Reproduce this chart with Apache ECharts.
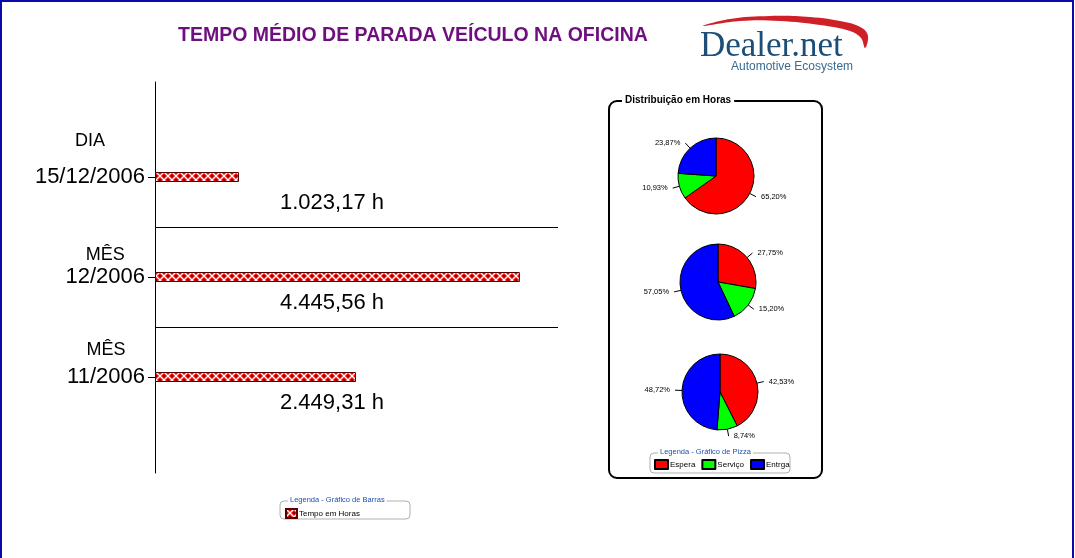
<!DOCTYPE html>
<html><head><meta charset="utf-8">
<script src="https://cdn.jsdelivr.net/npm/echarts@6/dist/echarts.min.js"></script>
<style>html,body{margin:0;padding:0;background:#fff}#c{width:1075px;height:558px}</style>
</head><body><div id="c"></div>
<script>
// ---- data ----
const barTopLabels = ['DIA', 'MÊS', 'MÊS'];
const barDateLabels = ['15/12/2006', '12/2006', '11/2006'];
const barValues = [1023.17, 4445.56, 2449.31];
const barSeriesName = 'Tempo em Horas';
const pieCategories = ['Espera', 'Serviço', 'Entrga'];
const pie1Values = [65.20, 10.93, 23.87];
const pie2Values = [27.75, 15.20, 57.05];
const pie3Values = [42.53, 8.74, 48.72];
const pieColors = ['#ff0000', '#00ff00', '#0000ff'];

function fmtBR(v) {
  const parts = v.toFixed(2).split('.');
  const int = parts[0].replace(/\B(?=(\d{3})+(?!\d))/g, '.');
  return int + ',' + parts[1];
}
function makePattern() {
  const c = document.createElement('canvas'); c.width = 8; c.height = 8;
  const g = c.getContext('2d');
  g.fillStyle = '#ff0000'; g.fillRect(0, 0, 8, 8);
  g.strokeStyle = '#ffffff'; g.lineWidth = 1.3;
  g.beginPath(); g.moveTo(0, 0); g.lineTo(8, 8); g.moveTo(8, 0); g.lineTo(0, 8); g.stroke();
  g.fillStyle = '#7a0000';
  g.fillRect(3, 0, 2, 1); g.fillRect(3, 7, 2, 1); g.fillRect(0, 3, 1, 2); g.fillRect(7, 3, 1, 2);
  return c;
}
const pattern = { image: makePattern(), repeat: 'repeat' };

const chart = echarts.init(document.getElementById('c'));
const topLH = [48, 20, 30];

function pieSeries(vals, center) {
  return {
    type: 'pie', radius: 38, center: center, startAngle: 90, clockwise: true,
    data: pieCategories.map((n, i) => ({ name: n, value: vals[i], itemStyle: { color: pieColors[i] } })),
    itemStyle: { borderColor: '#000', borderWidth: 1 },
    label: { show: true, position: 'outside', fontSize: 7.5, fontFamily: 'Arial', color: '#000',
      formatter: p => fmtBR(p.value) + '%' },
    labelLine: { show: true, length: 7, length2: 0, lineStyle: { color: '#000', width: 1 } },
    emphasis: { disabled: true }, animation: false, silent: true
  };
}

chart.setOption({
  animation: false,
  grid: [
    { left: 155, top: 127, width: 403, height: 300 },
    { left: 155, top: 82, width: 403, height: 391 }
  ],
  xAxis: [
    { gridIndex: 0, type: 'value', min: 0, max: 4910, show: false },
    { gridIndex: 1, type: 'value', min: 0, max: 1, show: false }
  ],
  yAxis: [
    { gridIndex: 0, type: 'category', inverse: true, data: barDateLabels,
      axisLine: { show: false },
      axisTick: { show: true, alignWithLabel: true, length: 7, lineStyle: { color: '#000' } },
      splitLine: { show: true, showMinLine: false, showMaxLine: false, lineStyle: { color: '#000', width: 1 } },
      axisLabel: { margin: 10, align: 'right', fontFamily: 'Arial', color: '#000',
        formatter: (v, i) => '{a' + i + '|' + barTopLabels[i] + '}\n{b|' + v + '}\n{a' + i + '| }',
        rich: {
          a0: { fontSize: 18, lineHeight: topLH[0], align: 'center', fontFamily: 'Arial', color: '#000' },
          a1: { fontSize: 18, lineHeight: topLH[1], align: 'center', fontFamily: 'Arial', color: '#000' },
          a2: { fontSize: 18, lineHeight: topLH[2], align: 'center', fontFamily: 'Arial', color: '#000' },
          b: { fontSize: 22, lineHeight: 24, align: 'center', fontFamily: 'Arial', color: '#000' }
        } } },
    { gridIndex: 1, type: 'value', min: 0, max: 1,
      axisLine: { show: true, lineStyle: { color: '#000', width: 1 } },
      axisTick: { show: false }, axisLabel: { show: false }, splitLine: { show: false } }
  ],
  title: [
    { text: 'TEMPO MÉDIO DE PARADA VEÍCULO NA OFICINA', left: 178, top: 26, padding: 0,
      textStyle: { fontFamily: 'Arial', fontWeight: 'bold', fontSize: 19.5, color: '#6f0f7f' } },
    { text: 'Distribuição em Horas', left: 622, top: 94, padding: [1, 3],
      backgroundColor: '#fff', textStyle: { fontFamily: 'Arial', fontWeight: 'bold', fontSize: 10, color: '#000' } }
  ],
  legend: [
    { data: [barSeriesName], left: 285, top: 508, icon: 'rect', itemWidth: 11, itemHeight: 9, padding: 0,
      textStyle: { fontSize: 8, fontFamily: 'Arial', color: '#000', padding: [0, 0, 0, -3] }, selectedMode: false },
    { data: pieCategories, left: 654, top: 459, icon: 'rect', itemWidth: 13, itemHeight: 9, itemGap: 6, padding: 0,
      textStyle: { fontSize: 8, fontFamily: 'Arial', color: '#000', padding: [0, 0, 0, -3] }, selectedMode: false }
  ],
  graphic: [
    { type: 'rect', shape: { x: 1, y: 1, width: 1072, height: 560 }, style: { fill: 'none', stroke: '#0a0aa8', lineWidth: 2 }, z: -1 },
    { type: 'rect', shape: { x: 609, y: 101, width: 213, height: 377, r: 8 }, style: { fill: 'none', stroke: '#000', lineWidth: 2 }, z: -1 },
    { type: 'rect', shape: { x: 650, y: 453, width: 140, height: 20, r: 4 }, style: { fill: 'none', stroke: '#b0b0b0', lineWidth: 1 }, z: -1 },
    { type: 'text', x: 658, y: 448, z: 10, style: { text: 'Legenda - Gráfico de Pizza', fill: '#1f4fb0', font: '7.5px Arial', backgroundColor: '#fff', padding: [0, 2] } },
    { type: 'rect', shape: { x: 280, y: 501, width: 130, height: 18, r: 4 }, style: { fill: 'none', stroke: '#b0b0b0', lineWidth: 1 }, z: -1 },
    { type: 'text', x: 288, y: 496, z: 10, style: { text: 'Legenda - Gráfico de Barras', fill: '#1f4fb0', font: '7.5px Arial', backgroundColor: '#fff', padding: [0, 2] } },
    { type: 'polygon', shape: { smooth: 0.4, points: [[703,26],[730,19],[770,16],[810,17],[845,22],[862,28],[868,36],[865,48],[861,38],[850,31],[820,25],[780,21],[740,21]] },
      style: { fill: '#cf2027' } },
    { type: 'text', x: 700, y: 29, style: { text: 'Dealer.net', fill: '#1d4e78', font: '35px "Liberation Serif"' } },
    { type: 'text', x: 731, y: 61, style: { text: 'Automotive Ecosystem', fill: '#3a6a90', font: '12px "Liberation Sans"' } }
  ],
  series: [
    { type: 'bar', name: barSeriesName, xAxisIndex: 0, yAxisIndex: 0, data: barValues, barWidth: 10,
      itemStyle: { color: pattern, borderColor: '#500', borderWidth: 1 },
      label: { show: true, position: [177, 31], align: 'center', verticalAlign: 'middle',
        fontSize: 22, fontFamily: 'Arial', color: '#000', formatter: p => fmtBR(p.value) + ' h' },
      emphasis: { disabled: true }, silent: true },
    pieSeries(pie1Values, [716, 176]),
    pieSeries(pie2Values, [718, 282]),
    pieSeries(pie3Values, [720, 392])
  ]
});
</script></body></html>
